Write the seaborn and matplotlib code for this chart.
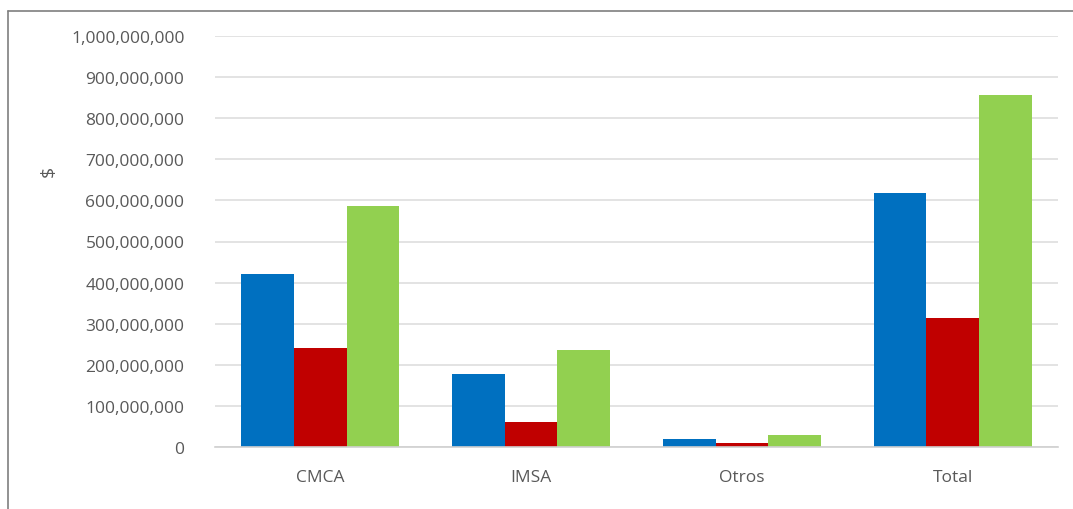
import pandas as pd
import matplotlib.pyplot as plt
import seaborn as sns
from matplotlib.ticker import FuncFormatter, MultipleLocator
from matplotlib.lines import Line2D

# Datos (en pesos)
categorias = ['CMCA', 'IMSA', 'Otros', 'Total']
series = ['Serie 1', 'Serie 2', 'Serie 3']
valores_serie1 = [420_000_000, 177_000_000, 19_000_000, 619_000_000]
valores_serie2 = [242_000_000, 60_000_000, 10_000_000, 315_000_000]
valores_serie3 = [586_000_000, 236_000_000, 28_000_000, 856_000_000]
colores = ['#0070C0', '#C00000', '#92D050']

df = pd.DataFrame({
    'Categoría': categorias * 3,
    'Serie': [series[0]] * 4 + [series[1]] * 4 + [series[2]] * 4,
    'Monto': valores_serie1 + valores_serie2 + valores_serie3,
})

sns.set_style('white')
plt.rcParams['font.family'] = ['Open Sans', 'DejaVu Sans']

fig = plt.figure(figsize=(10.73, 5.10), dpi=100)
ax = fig.add_axes([215 / 1073, 62 / 510, 843 / 1073, 411 / 510])

sns.barplot(data=df, x='Categoría', y='Monto', hue='Serie', palette=colores,
            width=0.75, saturation=1, legend=False, ax=ax, linewidth=0)

ax.set_ylim(0, 1_000_000_000)
ax.set_xlim(-0.5, 3.5)
ax.yaxis.set_major_locator(MultipleLocator(100_000_000))
ax.yaxis.set_major_formatter(FuncFormatter(lambda v, _: f'{v:,.0f}'))
ax.grid(axis='y', color='#dedede', linewidth=1.2)
ax.set_axisbelow(True)

for lado in ['top', 'right', 'left']:
    ax.spines[lado].set_visible(False)
ax.spines['bottom'].set_color('#d0d0d0')
ax.spines['bottom'].set_linewidth(1.2)

ax.tick_params(axis='y', length=0, pad=22, labelsize=12.5, labelcolor='#595959')
ax.tick_params(axis='x', length=0, pad=16, labelsize=12.5, labelcolor='#595959')

ax.set_xlabel('')
ax.set_ylabel('$', fontsize=14, color='#595959')
ax.yaxis.set_label_coords(-0.186, 0.672)

# Marco del área del gráfico (borde superior e izquierdo)
fig.add_artist(Line2D([7.5 / 1073, 7.5 / 1073], [0, 1 - 11.5 / 510], color='#7f7f7f', linewidth=1.2))
fig.add_artist(Line2D([7.5 / 1073, 1], [1 - 11.5 / 510, 1 - 11.5 / 510], color='#7f7f7f', linewidth=1.2))

fig.savefig('out.png', dpi=100)
